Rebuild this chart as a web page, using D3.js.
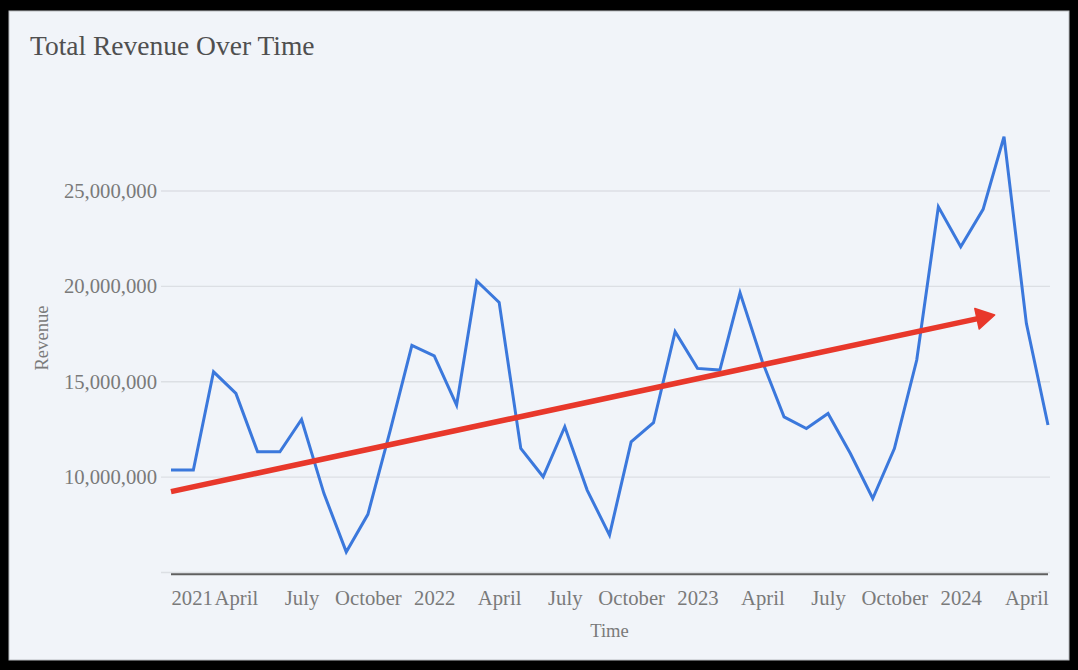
<!DOCTYPE html>
<html>
<head>
<meta charset="utf-8">
<script src="https://cdn.jsdelivr.net/npm/d3@7/dist/d3.min.js"></script>
<style>
  html, body { margin: 0; padding: 0; background: #000; }
  svg { display: block; }
</style>
</head>
<body>
<svg id="chart" width="1078" height="670"></svg>
<script>
// ---- Data ----
const months = [
  "2021-01","2021-02","2021-03","2021-04","2021-05","2021-06","2021-07","2021-08","2021-09","2021-10","2021-11","2021-12",
  "2022-01","2022-02","2022-03","2022-04","2022-05","2022-06","2022-07","2022-08","2022-09","2022-10","2022-11","2022-12",
  "2023-01","2023-02","2023-03","2023-04","2023-05","2023-06","2023-07","2023-08","2023-09","2023-10","2023-11","2023-12",
  "2024-01","2024-02","2024-03","2024-04","2024-05"
];
const revenue = [
  10370000,10370000,15520000,14390000,11330000,11330000,13020000,9150000,6080000,8050000,12450000,16900000,
  16350000,13780000,20280000,19160000,11500000,10020000,12640000,9320000,6960000,11850000,12850000,17620000,
  15700000,15610000,19660000,16050000,13160000,12550000,13340000,11240000,8880000,11500000,16140000,24170000,
  22080000,24040000,27850000,18060000,12730000
];
const yTickValues = [10000000, 15000000, 20000000, 25000000];
const xTickDates = ["2021-01","2021-04","2021-07","2021-10","2022-01","2022-04","2022-07","2022-10",
                    "2023-01","2023-04","2023-07","2023-10","2024-01","2024-04"];
const xTickLabels = ["2021","April","July","October","2022","April","July","October",
                     "2023","April","July","October","2024","April"];
const trendStart = { date: "2021-01-01", value: 9240000 };
const trendEnd   = { date: "2024-02-17", value: 18500000 };
const titleText = "Total Revenue Over Time";
const xTitle = "Time";
const yTitle = "Revenue";

// ---- Setup ----
const W = 1078, H = 670;
const svg = d3.select("#chart");
const parseM = d3.timeParse("%Y-%m");
const parseD = d3.timeParse("%Y-%m-%d");
const data = months.map((m, i) => ({ date: parseM(m), value: revenue[i] }));

// frame
svg.append("rect").attr("x", 0).attr("y", 0).attr("width", W).attr("height", H).attr("fill", "#000");
svg.append("rect").attr("x", 9).attr("y", 11).attr("width", 1060).attr("height", 649)
  .attr("fill", "#f1f4f9").attr("stroke", "#b9bcc0").attr("stroke-width", 1);

const plotL = 161, plotR = 1050;
const x = d3.scaleTime()
  .domain([parseM("2021-01"), parseM("2024-05")])
  .range([171, 1048]);
const y = d3.scaleLinear().domain([5000000, 30000000]).range([572.5, 95.6]);

const serif = "'Liberation Serif', 'DejaVu Serif', 'Times New Roman', serif";

// gridlines
const gridVals = [5000000].concat(yTickValues);
svg.append("g").selectAll("line").data(gridVals).join("line")
  .attr("x1", plotL).attr("x2", plotR)
  .attr("y1", d => y(d)).attr("y2", d => y(d))
  .attr("stroke", "#dcdfe4").attr("stroke-width", 1.3);

// y axis labels
const yAxis = d3.axisLeft(y).tickValues(yTickValues).tickSize(0).tickPadding(0)
  .tickFormat(d3.format(",.0f"));
const yg = svg.append("g").attr("transform", `translate(157,0)`).call(yAxis);
yg.select(".domain").remove();
yg.selectAll("text").attr("font-family", serif).attr("font-size", "20.7px").attr("fill", "#7a7a7a");

// x axis baseline
svg.append("line").attr("x1", x.range()[0]).attr("x2", x.range()[1])
  .attr("y1", 574.3).attr("y2", 574.3).attr("stroke", "#5f5f5f").attr("stroke-width", 2);

// x axis labels
const xDates = xTickDates.map(parseM);
const xAxis = d3.axisBottom(x).tickValues(xDates).tickSize(0).tickPadding(0)
  .tickFormat((d, i) => xTickLabels[i]);
const xg = svg.append("g").attr("transform", `translate(0,590)`).call(xAxis);
xg.select(".domain").remove();
xg.selectAll("text").attr("font-family", serif).attr("font-size", "20.7px").attr("fill", "#7a7a7a")
  .attr("dy", "0.72em")
  .attr("text-anchor", (d, i) => i === 0 ? "start" : "middle");

// axis titles
svg.append("text").attr("x", 609.5).attr("y", 637).attr("text-anchor", "middle")
  .attr("font-family", serif).attr("font-size", "18.6px").attr("fill", "#7a7a7a").text(xTitle);
svg.append("text").attr("transform", "translate(48,338) rotate(-90)").attr("text-anchor", "middle")
  .attr("font-family", serif).attr("font-size", "18.6px").attr("fill", "#7a7a7a").text(yTitle);

// title
svg.append("text").attr("x", 30).attr("y", 55)
  .attr("font-family", serif).attr("font-size", "27.5px").attr("fill", "#4f4f4f").text(titleText);

// revenue line
const line = d3.line().x(d => x(d.date)).y(d => y(d.value));
svg.append("path").datum(data).attr("d", line)
  .attr("fill", "none").attr("stroke", "#3b78dc").attr("stroke-width", 3)
  .attr("stroke-linejoin", "miter");

// trend arrow
const x0 = x(parseD(trendStart.date)), y0 = y(trendStart.value);
const x1 = x(parseD(trendEnd.date)), y1 = y(trendEnd.value);
const dx = x1 - x0, dy = y1 - y0, len = Math.hypot(dx, dy);
const ux = dx / len, uy = dy / len, px = -uy, py = ux;
const headLen = 18, headHalf = 10.5;
const bx = x1 - ux * headLen, by = y1 - uy * headLen;
svg.append("line").attr("x1", x0).attr("y1", y0).attr("x2", bx + ux * 2).attr("y2", by + uy * 2)
  .attr("stroke", "#e8382b").attr("stroke-width", 5.5);
svg.append("path")
  .attr("d", `M${x1},${y1}L${bx + px * headHalf},${by + py * headHalf}L${bx - px * headHalf},${by - py * headHalf}Z`)
  .attr("fill", "#e8382b").attr("stroke", "#e8382b").attr("stroke-width", 1.5).attr("stroke-linejoin", "round");
</script>
</body>
</html>
